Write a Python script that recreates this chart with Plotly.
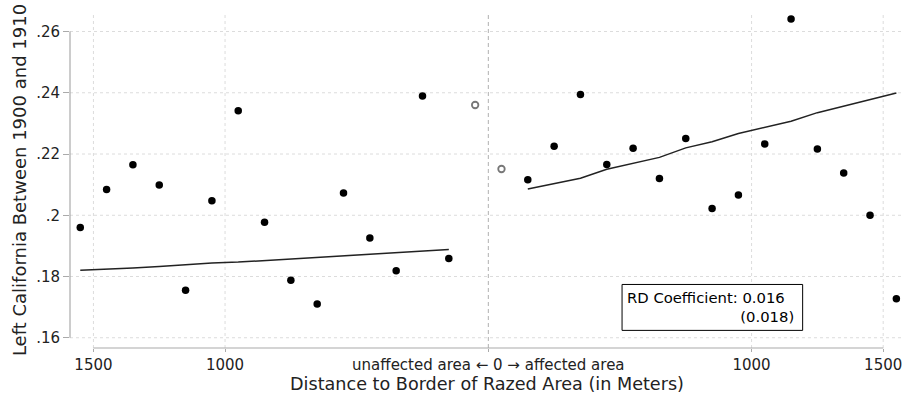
import plotly.graph_objects as go

# ---- data ----
left_x = [-1550, -1450, -1350, -1250, -1150, -1050, -950, -850, -750, -650, -550, -450, -350, -250, -150]
left_y = [0.1960, 0.2084, 0.2165, 0.2099, 0.1755, 0.2047, 0.2341, 0.1977, 0.1788, 0.1710,
          0.2073, 0.1926, 0.1819, 0.2389, 0.1859]
left_fit = [0.1820, 0.1823, 0.1828, 0.1833, 0.1839, 0.1844, 0.1847, 0.1852, 0.1858, 0.1864,
            0.1868, 0.1873, 0.1878, 0.1883, 0.1888]

hollow_x = [-50, 50]
hollow_y = [0.2360, 0.2151]

right_x = [150, 250, 350, 450, 550, 650, 750, 850, 950, 1050, 1150, 1250, 1350, 1450, 1550]
right_y = [0.2116, 0.2225, 0.2394, 0.2166, 0.2219, 0.2120, 0.2251, 0.2022, 0.2066, 0.2233,
           0.2641, 0.2216, 0.2138, 0.2000, 0.1727]
right_fit = [0.2086, 0.2103, 0.2121, 0.2150, 0.2170, 0.2189, 0.2220, 0.2240, 0.2267, 0.2288,
             0.2307, 0.2335, 0.2356, 0.2378, 0.2399]

x_tickvals = [-1500, -1000, 0, 1000, 1500]
x_ticktext = ["1500", "1000", "unaffected area \u2190 0 \u2192 affected area", "1000", "1500"]
y_tickvals = [0.16, 0.18, 0.20, 0.22, 0.24, 0.26]
y_ticktext = [".16", ".18", ".2", ".22", ".24", ".26"]

rd_label = "RD Coefficient: 0.016"
rd_se = "(0.018)"

FONT = "DejaVu Sans"
TXT = "#222222"
fig = go.Figure()

# gridlines
for xv in x_tickvals:
    if xv != 0:
        fig.add_shape(type="line", xref="x", yref="paper", x0=xv, x1=xv, y0=0, y1=1,
                      line=dict(color="#dcdcdc", width=1, dash="dot"), layer="below")
for yv in y_tickvals:
    fig.add_shape(type="line", xref="paper", yref="y", x0=0, x1=1, y0=yv, y1=yv,
                  line=dict(color="#dcdcdc", width=1, dash="dot"), layer="below")
# cutoff line
fig.add_shape(type="line", xref="x", yref="paper", x0=0, x1=0, y0=0, y1=1,
              line=dict(color="#b0b0b0", width=1, dash="4px,3px"), layer="below")
# axis lines spanning tick range
fig.add_shape(type="line", xref="x", yref="paper", x0=x_tickvals[0], x1=x_tickvals[-1], y0=0, y1=0,
              line=dict(color="#aaaaaa", width=1.2))
fig.add_shape(type="line", xref="paper", yref="y", x0=0, x1=0, y0=y_tickvals[0], y1=y_tickvals[-1],
              line=dict(color="#aaaaaa", width=1.2))

fig.add_trace(go.Scatter(x=left_x, y=left_fit, mode="lines",
                         line=dict(color="#222222", width=1.5), showlegend=False))
fig.add_trace(go.Scatter(x=right_x, y=right_fit, mode="lines",
                         line=dict(color="#222222", width=1.5), showlegend=False))
fig.add_trace(go.Scatter(x=left_x + right_x, y=left_y + right_y, mode="markers",
                         marker=dict(color="black", size=7.5, symbol="circle"), showlegend=False))
fig.add_trace(go.Scatter(x=hollow_x, y=hollow_y, mode="markers",
                         marker=dict(color="white", size=6.5, symbol="circle",
                                     line=dict(color="#777777", width=1.8)), showlegend=False))

# RD box
fig.add_shape(type="rect", xref="x", yref="y", x0=508, x1=1194, y0=0.1624, y1=0.1774,
              line=dict(color="black", width=1), fillcolor="white")
fig.add_annotation(x=1165, y=0.1700, xref="x", yref="y",
                   text=rd_label + "\u00a0\u00a0<br>" + rd_se, showarrow=False, align="right",
                   xanchor="right", yanchor="middle", borderpad=0,
                   font=dict(family=FONT, size=14.8, color="black"))

fig.update_layout(
    width=904, height=398,
    margin=dict(l=70, r=0, t=12, b=50),
    paper_bgcolor="white", plot_bgcolor="white",
    font=dict(family=FONT, color=TXT),
    xaxis=dict(range=[-1589, 1579], tickvals=x_tickvals, ticktext=x_ticktext,
               showgrid=False, zeroline=False, showline=False, automargin=False,
               ticks="outside", ticklen=3, tickcolor="#aaaaaa",
               tickfont=dict(family=FONT, size=15, color=TXT),
               title=dict(text="Distance to Border of Razed Area (in Meters)",
                          font=dict(family=FONT, size=17.6, color=TXT), standoff=2)),
    yaxis=dict(range=[0.15665, 0.26637], tickvals=y_tickvals, ticktext=y_ticktext,
               showgrid=False, zeroline=False, showline=False, automargin=False,
               ticks="outside", ticklen=6, tickcolor="#aaaaaa",
               tickfont=dict(family=FONT, size=15, color=TXT),
               title=dict(text="Left California Between 1900 and 1910",
                          font=dict(family=FONT, size=18, color=TXT), standoff=4)),
)

fig.write_html("out.html", config={"displayModeBar": False},
               post_script="document.body.style.margin='0';document.body.style.padding='0';")
